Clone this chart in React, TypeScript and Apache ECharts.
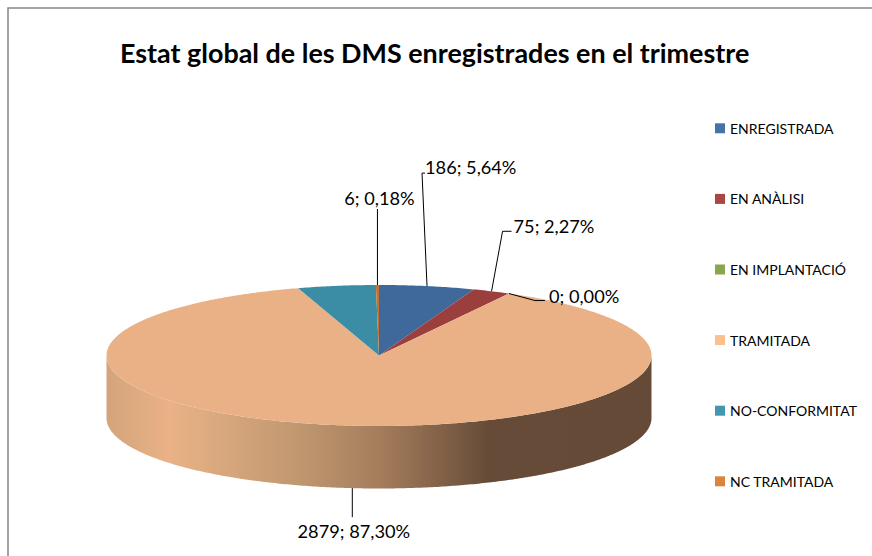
import React, { useEffect, useRef } from "react";
import * as echarts from "echarts";

const titleText = "Estat global de les DMS enregistrades en el trimestre";
const categories = ["ENREGISTRADA", "EN ANÀLISI", "EN IMPLANTACIÓ", "TRAMITADA", "NO-CONFORMITAT", "NC TRAMITADA"];
const values = [186, 75, 0, 2879, 152, 6];
const legendColors = ["#4572A7", "#AA4643", "#89A54E", "#FCC08F", "#4198AF", "#DB843D"];
const sliceColors = ["#3F689B", "#9A3F3E", "#7E9848", "#E9B185", "#3A8DA4", "#C4712F"];
// label offset from the slice's rim anchor: elbow / end of leader + text start
const leaderBends: number[][][] = [
  [[-5, -113], [-2, -113]],
  [[11, -60], [20, -60]],
  [[26, 7], [36, 7]],
  [[0, 29]],
  [],
  [[0, -76]],
];
const labelOffsets: number[][] = [
  [-2, -119],
  [22, -65],
  [40, 2],
  [1.5, 43],
  [0, 0],
  [2, -87],
];
const labelAligns = ["left", "left", "left", "center", "left", "center"];

const CX = 379, CY = 355.5, RX = 272.5, RY = 70.5, DEPTH = 62.5;
const total = values.reduce((a, b) => a + b, 0);
const fmt = (v: number) => `${v}; ${((v / total) * 100).toFixed(2).replace(".", ",")}%`;
const pt = (t: number, dy = 0) => [CX + RX * Math.sin(t), CY - RY * Math.cos(t) + dy];

function renderSlice(params: any, api: any) {
  const i = params.seriesIndex;
  const before = values.slice(0, i).reduce((a, b) => a + b, 0);
  const v = api.value(0);
  const a0 = (before / total) * Math.PI * 2;
  const a1 = ((before + v) / total) * Math.PI * 2;
  const mid = (a0 + a1) / 2;
  const children: any[] = [];
  const rim: number[][] = [];
  const steps = Math.max(2, Math.ceil((a1 - a0) / 0.01));
  for (let s = 0; s <= steps; s++) rim.push(pt(a0 + ((a1 - a0) * s) / steps));

  // Visible side wall: the front half of the disc
  const wallFrom = Math.max(a0, Math.PI / 2);
  const wallTo = Math.min(a1, (Math.PI * 3) / 2);
  if (wallTo > wallFrom && v > 0) {
    const up: number[][] = [];
    const down: number[][] = [];
    const n = Math.ceil((wallTo - wallFrom) / 0.01);
    for (let s = 0; s <= n; s++) {
      const t = wallFrom + ((wallTo - wallFrom) * s) / n;
      up.push(pt(t));
      down.unshift(pt(t, DEPTH));
    }
    children.push({
      type: "polygon",
      shape: { points: up.concat(down) },
      style: {
        fill: new echarts.graphic.LinearGradient(0, 0, 1, 0, [
          { offset: 0, color: "#D3A47B" },
          { offset: 0.115, color: "#EAB286" },
          { offset: 0.35, color: "#C09870" },
          { offset: 0.5, color: "#A67D5C" },
          { offset: 0.7, color: "#664C38" },
          { offset: 1, color: "#654B37" },
        ]),
      },
    });
  }
  if (v > 0) {
    children.push({
      type: "polygon",
      shape: { points: [[CX, CY], ...rim] },
      style: { fill: sliceColors[i] },
    });
  }
  // Data label and leader line
  if (i !== 4) {
    const side = mid > Math.PI / 2 && mid < (Math.PI * 3) / 2 ? DEPTH : 0;
    const anchor = pt(mid, side);
    const line = [anchor, ...leaderBends[i].map((o) => [anchor[0] + o[0], anchor[1] + o[1]])];
    children.push({
      type: "polyline",
      z2: 50,
      shape: { points: line },
      style: { stroke: "#000", lineWidth: 1, fill: "none" },
    });
    children.push({
      type: "text",
      z2: 50,
      x: anchor[0] + labelOffsets[i][0],
      y: anchor[1] + labelOffsets[i][1],
      style: {
        text: fmt(v),
        font: "18.2px Lato",
        fill: "#000",
        align: labelAligns[i],
        verticalAlign: "middle",
      },
    });
  }
  return { type: "group", children };
}

export default function App() {
  const ref = useRef<HTMLDivElement>(null);
  useEffect(() => {
    const chart = echarts.init(ref.current!, null, { renderer: "svg" });
    chart.setOption({
      animation: false,
      backgroundColor: "#fff",
      title: {
        text: titleText,
        left: 115,
        top: 34,
        textStyle: { fontFamily: "Lato", fontSize: 26.9, fontWeight: "bold", color: "#000" },
      },
      legend: {
        orient: "vertical",
        left: 715,
        top: 120,
        padding: 0,
        itemWidth: 10,
        itemHeight: 10,
        itemGap: 54,
        icon: "rect",
        selectedMode: false,
        textStyle: { fontFamily: "Lato", fontSize: 14, color: "#000", height: 16.6, lineHeight: 16.6 },
        data: categories.map((name, i) => ({ name, itemStyle: { color: legendColors[i] } })),
      },
      graphic: [
        {
          type: "rect",
          shape: { x: 8, y: 8, width: 900, height: 600 },
          style: { fill: "none", stroke: "#868686", lineWidth: 1.5 },
          z: -10,
        },
      ],
      series: categories.map((name, i) => ({
        type: "custom",
        name,
        coordinateSystem: "none",
        renderItem: renderSlice,
        itemStyle: { color: legendColors[i] },
        data: [[values[i]]],
        silent: true,
      })),
    });
    return () => chart.dispose();
  }, []);
  return <div ref={ref} style={{ position: "fixed", left: 0, top: 0, width: 872, height: 556 }} />;
}
